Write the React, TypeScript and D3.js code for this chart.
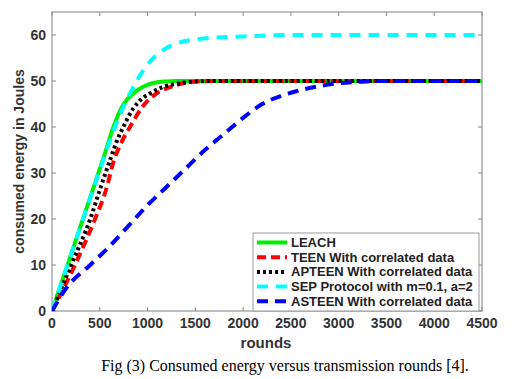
import React from "react";
import * as d3 from "d3";

const leachX = [0, 150, 300, 450, 550, 640, 700, 750, 850, 950, 1050, 1200, 1300, 2000, 3000, 4500];
const leachY = [0, 9.2, 18.5, 27.8, 34, 39.8, 43, 45, 47.3, 48.7, 49.5, 49.9, 50, 50, 50, 50];
const teenX = [0, 240, 450, 565, 649, 730, 816, 950, 1096, 1250, 1370, 1550, 1700, 2500, 3500, 4500];
const teenY = [0, 10, 20, 26.3, 32.8, 36.8, 40, 44.5, 47.3, 48.8, 49.5, 49.9, 50, 50, 50, 50];
const apteenX = [0, 200, 400, 500, 607, 680, 746, 850, 950, 1026, 1150, 1340, 1500, 1700, 2500, 3500, 4500];
const apteenY = [0, 10, 20, 26.3, 32.8, 37, 40, 44, 46.3, 47.3, 48.6, 49.5, 49.9, 50, 50, 50, 50];
const sepX = [0, 300, 537, 659, 750, 816, 900, 1043, 1150, 1305, 1619, 2000, 2500, 3500, 4500];
const sepY = [0, 18.5, 32.8, 40, 44.5, 47.3, 50.5, 54.6, 56.5, 58.2, 59.3, 59.7, 60, 60, 60];
const asteenX = [0, 150, 400, 600, 800, 1000, 1200, 1400, 1600, 1800, 2000, 2200, 2400, 2600, 2800, 3000, 3200, 3400, 4500];
const asteenY = [0, 5, 10, 14, 18.5, 23, 27, 31, 35, 38.5, 42, 45, 46.8, 48, 48.9, 49.5, 49.8, 50, 50];

const xTicks = [0, 500, 1000, 1500, 2000, 2500, 3000, 3500, 4000, 4500];
const yTicks = [0, 10, 20, 30, 40, 50, 60];

const seriesNames = [
  "LEACH",
  "TEEN With correlated data",
  "APTEEN With correlated data",
  "SEP Protocol with m=0.1, a=2",
  "ASTEEN With correlated data",
];

export default function App() {
  const W = 516, H = 379;
  const L = 52, R = 482, T = 12, B = 311;
  const x = d3.scaleLinear().domain([0, 4500]).range([L, R]);
  const y = d3.scaleLinear().domain([0, 65]).range([B, T]);
  const line = d3.line<[number, number]>().x(d => x(d[0])).y(d => y(d[1])).curve(d3.curveMonotoneX);
  const mk = (xs: number[], ys: number[]) => xs.map((v, i) => [v, ys[i]] as [number, number]);

  const series = [
    { d: mk(leachX, leachY), color: "#00ee00", dash: "" },
    { d: mk(teenX, teenY), color: "#ff0000", dash: "9 5" },
    { d: mk(apteenX, apteenY), color: "#000000", dash: "3 3" },
    { d: mk(sepX, sepY), color: "#00ffff", dash: "11 8" },
    { d: mk(asteenX, asteenY), color: "#0000ff", dash: "11 7" },
  ];

  const font = "'Liberation Sans', Arial, sans-serif";
  const legX = 253, legY = 233, legW = 226, legH = 78;

  return (
    <svg width={W} height={H} style={{ position: "absolute", left: 0, top: 0 }}>
      <rect x={0} y={0} width={W} height={H} fill="#fff" />
      <defs>
        <clipPath id="clip"><rect x={L} y={T} width={R - L} height={B - T} /></clipPath>
      </defs>
      <rect x={L} y={T} width={R - L} height={B - T} fill="#fff" stroke="#aaa" strokeWidth={1.5} />
      {xTicks.map(t => (
        <g key={"x" + t}>
          <line x1={x(t)} x2={x(t)} y1={B} y2={B - 4} stroke="#888" />
          <line x1={x(t)} x2={x(t)} y1={T} y2={T + 4} stroke="#888" />
          <text x={x(t)} y={B + 17} textAnchor="middle" fontFamily={font} fontWeight="bold" fontSize={14} fill="#333">{t}</text>
        </g>
      ))}
      {yTicks.map(t => (
        <g key={"y" + t}>
          <line x1={L} x2={L + 4} y1={y(t)} y2={y(t)} stroke="#888" />
          <line x1={R} x2={R - 4} y1={y(t)} y2={y(t)} stroke="#888" />
          <text x={L - 6} y={y(t) + 5} textAnchor="end" fontFamily={font} fontWeight="bold" fontSize={14} fill="#333">{t}</text>
        </g>
      ))}
      <g clipPath="url(#clip)">
        {series.map((s, i) => (
          <path key={i} d={line(s.d) || ""} fill="none" stroke={s.color} strokeWidth={4} strokeDasharray={s.dash} />
        ))}
      </g>
      <text x={266} y={348} textAnchor="middle" fontFamily={font} fontWeight="bold" fontSize={15} fill="#333">rounds</text>
      <text transform={`translate(24,${(T + B) / 2}) rotate(-90)`} textAnchor="middle" fontFamily={font} fontWeight="bold" fontSize={14} fill="#333">consumed energy in Joules</text>
      <rect x={legX} y={legY} width={legW} height={legH} fill="#fff" stroke="#999" strokeWidth={1} />
      {series.map((s, i) => {
        const ly = legY + 9.5 + i * 14.7;
        return (
          <g key={"l" + i}>
            <line x1={257} x2={287} y1={ly} y2={ly} stroke={s.color} strokeWidth={4} strokeDasharray={s.dash} />
            <text x={291} y={ly + 4.5} fontFamily={font} fontWeight="bold" fontSize={13} fill="#222">{seriesNames[i]}</text>
          </g>
        );
      })}
      <text x={285} y={371} textAnchor="middle" fontFamily="'Liberation Serif', 'Times New Roman', serif" fontSize={16} fill="#000">Fig (3) Consumed energy versus transmission rounds [4].</text>
    </svg>
  );
}
